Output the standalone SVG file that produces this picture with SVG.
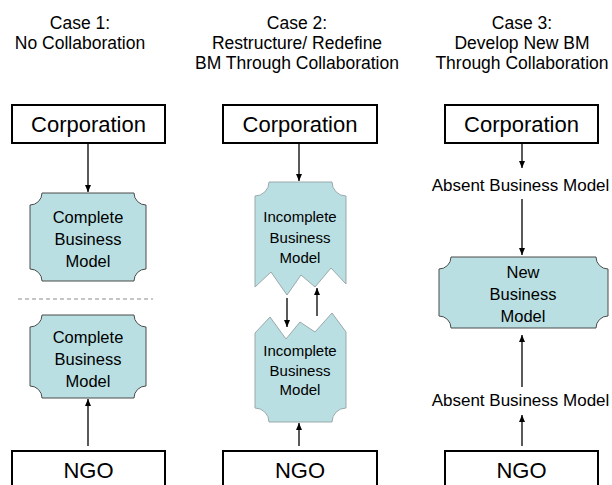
<svg xmlns="http://www.w3.org/2000/svg" width="612" height="485" viewBox="0 0 612 485">
  <style>
    text { font-family: "Liberation Sans", Arial, sans-serif; fill: #000; text-anchor: middle; }
    .title { font-size: 17.5px; }
    .box { fill: #fff; stroke: #000; stroke-width: 2; }
    .boxlabel { font-size: 22px; }
    .bm { fill: #B9DFE2; stroke: #4a4a4a; stroke-width: 1; }
    .bm-soft { fill: #B9DFE2; stroke: #9aa9ab; stroke-width: 1; }
    .bmlabel { font-size: 16.5px; }
    .inclabel { font-size: 15px; }
    .absent { font-size: 17px; }
    .edge { stroke: #000; stroke-width: 1.3; fill: none; marker-end: url(#arrow); }
    .divider { stroke: #8c8c8c; stroke-width: 1.2; stroke-dasharray: 4 3; }
  </style>
  <defs>
    <marker id="arrow" markerUnits="userSpaceOnUse" markerWidth="8" markerHeight="8" refX="7" refY="3" orient="auto">
      <path d="M0,0 L7,3 L0,6 z" fill="#000"/>
    </marker>
  </defs>

  <rect width="612" height="485" fill="#fff"/>

  <!-- column headings -->
  <g id="heading-case1">
    <text class="title" x="80" y="29">Case 1:</text>
    <text class="title" x="80" y="49">No Collaboration</text>
  </g>
  <g id="heading-case2">
    <text class="title" x="297" y="29">Case 2:</text>
    <text class="title" x="297" y="49">Restructure/ Redefine</text>
    <text class="title" x="297" y="69">BM Through Collaboration</text>
  </g>
  <g id="heading-case3">
    <text class="title" x="522" y="29">Case 3:</text>
    <text class="title" x="522" y="49">Develop New BM</text>
    <text class="title" x="522" y="69">Through Collaboration</text>
  </g>

  <!-- Case 1 -->
  <g id="corp1">
    <rect class="box" x="12" y="105" width="153" height="38"/>
    <text class="boxlabel" x="88.5" y="132">Corporation</text>
  </g>
  <g id="bm1-top">
    <path class="bm" d="M42,193 H134 A12,12 0 0 0 146,205 V269 A12,12 0 0 0 134,281 H42 A12,12 0 0 0 30,269 V205 A12,12 0 0 0 42,193 Z"/>
    <text class="bmlabel" x="88" y="223">Complete</text>
    <text class="bmlabel" x="88" y="245">Business</text>
    <text class="bmlabel" x="88" y="267">Model</text>
  </g>
  <line id="divider1" class="divider" x1="18" y1="299" x2="153" y2="299"/>
  <g id="bm1-bottom">
    <path class="bm" d="M42,315 H134 A12,12 0 0 0 146,327 V386 A12,12 0 0 0 134,398 H42 A12,12 0 0 0 30,386 V327 A12,12 0 0 0 42,315 Z"/>
    <text class="bmlabel" x="88" y="343">Complete</text>
    <text class="bmlabel" x="88" y="365">Business</text>
    <text class="bmlabel" x="88" y="387">Model</text>
  </g>
  <g id="ngo1">
    <rect class="box" x="12" y="451" width="153" height="50"/>
    <text class="boxlabel" x="88.5" y="478">NGO</text>
  </g>

  <!-- Case 2 -->
  <g id="corp2">
    <rect class="box" x="223" y="105" width="154" height="38"/>
    <text class="boxlabel" x="300" y="132">Corporation</text>
  </g>
  <g id="bm2-top">
    <path class="bm-soft" d="M269,182 H332 A14,14 0 0 0 346,196 V284 L331,268 L315,287 L301,275 L287,295 L271,272 L255,287 V196 A14,14 0 0 0 269,182 Z"/>
    <text class="inclabel" x="300" y="222">Incomplete</text>
    <text class="inclabel" x="300" y="243">Business</text>
    <text class="inclabel" x="300" y="263">Model</text>
  </g>
  <g id="bm2-bottom">
    <path class="bm-soft" d="M255,333 L270,317 L286,339 L300,322 L315,332 L332,313 L346,332 V408 A14,14 0 0 0 332,422 H269 A14,14 0 0 0 255,408 Z"/>
    <text class="inclabel" x="300" y="356">Incomplete</text>
    <text class="inclabel" x="300" y="376">Business</text>
    <text class="inclabel" x="300" y="395">Model</text>
  </g>
  <g id="ngo2">
    <rect class="box" x="223" y="451" width="154" height="50"/>
    <text class="boxlabel" x="300" y="478">NGO</text>
  </g>

  <!-- Case 3 -->
  <g id="corp3">
    <rect class="box" x="445" y="105" width="153" height="38"/>
    <text class="boxlabel" x="521.5" y="132">Corporation</text>
  </g>
  <g id="absent-top">
    <text class="absent" x="520.5" y="191">Absent Business Model</text>
  </g>
  <g id="bm3">
    <path class="bm" d="M451,257 H596 A12,12 0 0 0 608,269 V316 A12,12 0 0 0 596,328 H451 A12,12 0 0 0 439,316 V269 A12,12 0 0 0 451,257 Z"/>
    <text class="bmlabel" x="523" y="278">New</text>
    <text class="bmlabel" x="523" y="300">Business</text>
    <text class="bmlabel" x="523" y="322">Model</text>
  </g>
  <g id="absent-bottom">
    <text class="absent" x="520.5" y="406">Absent Business Model</text>
  </g>
  <g id="ngo3">
    <rect class="box" x="445" y="451" width="153" height="50"/>
    <text class="boxlabel" x="521.5" y="478">NGO</text>
  </g>

  <!-- connectors -->
  <g id="connectors">
    <line class="edge" x1="88" y1="144" x2="88" y2="192"/>
    <line class="edge" x1="88" y1="446" x2="88" y2="399"/>
    <line class="edge" x1="299" y1="144" x2="299" y2="181"/>
    <line class="edge" x1="287" y1="298" x2="287" y2="327"/>
    <line class="edge" x1="317" y1="316" x2="317" y2="288"/>
    <line class="edge" x1="299" y1="446" x2="299" y2="423"/>
    <line class="edge" x1="522" y1="144" x2="522" y2="168"/>
    <line class="edge" x1="522" y1="199" x2="522" y2="255"/>
    <line class="edge" x1="522" y1="387" x2="522" y2="335"/>
    <line class="edge" x1="522" y1="446" x2="522" y2="415"/>
  </g>
</svg>
